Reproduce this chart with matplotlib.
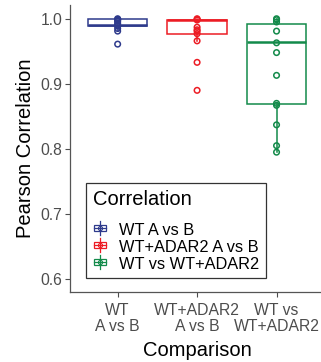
import numpy as np
import matplotlib
matplotlib.use('Agg')
import matplotlib.pyplot as plt
from matplotlib.legend_handler import HandlerBase
from matplotlib.patches import Rectangle
from matplotlib.lines import Line2D

plt.rcParams['font.family'] = ['Liberation Sans', 'DejaVu Sans']

groups = ['WT A vs B', 'WT+ADAR2 A vs B', 'WT vs WT+ADAR2']
tick_labels = ['WT\nA vs B', 'WT+ADAR2\nA vs B', 'WT vs\nWT+ADAR2']
colors = ['#2E3A8C', '#EC1C24', '#138A4A']

# box statistics
q1 = [0.989, 0.976, 0.869]
med = [0.990, 0.998, 0.964]
q3 = [0.999, 0.9985, 0.992]
whislo = [0.981, 0.966, 0.795]
whishi = [1.000, 1.000, 1.000]

pts_wt = [1.000, 0.999, 0.998, 0.996, 0.993, 0.990, 0.989, 0.985, 0.981, 0.961]
pts_adar = [1.000, 0.999, 0.998, 0.987, 0.983, 0.981, 0.977, 0.966, 0.933, 0.890]
pts_cross = [1.000, 0.9985, 0.995, 0.981, 0.963, 0.948, 0.913, 0.870, 0.867,
             0.837, 0.805, 0.795]
points = [pts_wt, pts_adar, pts_cross]

fig = plt.figure(figsize=(3.21, 3.62), dpi=100)
ax = fig.add_axes([0.218, 0.193, 0.792, 0.793])

for i in range(3):
    st = [dict(med=med[i], q1=q1[i], q3=q3[i], whislo=whislo[i], whishi=whishi[i], fliers=[])]
    c = colors[i]
    ax.bxp(st, positions=[i + 1], widths=0.75, showfliers=False, showcaps=False,
           patch_artist=True,
           boxprops=dict(facecolor='none', edgecolor=c, linewidth=1.1),
           medianprops=dict(color=c, linewidth=1.8),
           whiskerprops=dict(color=c, linewidth=1.1))
    ax.scatter(np.full(len(points[i]), i + 1), points[i], s=16, facecolors='none',
               edgecolors=c, linewidths=1.1, zorder=3)

ax.set_xlim(0.4, 3.6)
ax.set_ylim(0.58, 1.021)
ax.set_yticks([0.6, 0.7, 0.8, 0.9, 1.0])
ax.set_xticks([1, 2, 3])
ax.set_xticklabels(tick_labels, linespacing=1.15)
ax.tick_params(colors='#4D4D4D', labelsize=11.3, length=3.5, width=0.8)
ax.tick_params(axis='x', pad=4)
ax.tick_params(axis='y', pad=2)
for s in ['top', 'right']:
    ax.spines[s].set_visible(False)
for s in ['left', 'bottom']:
    ax.spines[s].set_color('#555555')
    ax.spines[s].set_linewidth(0.9)
ax.set_ylabel('Pearson Correlation', fontsize=14.5, labelpad=4)
ax.set_xlabel('Comparison', fontsize=14.5, labelpad=5)


class BoxHandler(HandlerBase):
    def create_artists(self, legend, orig, x0, y0, w, h, fontsize, trans):
        c = orig.get_color()
        cx = x0 + w / 2
        cy = y0 + h / 2
        bw = w * 0.8
        bh = h * 0.5
        rect = Rectangle((cx - bw / 2, cy - bh / 2), bw, bh, facecolor='none',
                         edgecolor=c, linewidth=0.9, transform=trans)
        mline = Line2D([cx - bw / 2, cx + bw / 2], [cy, cy], color=c, lw=0.9, transform=trans)
        vline = Line2D([cx, cx], [y0 - h * 0.05, y0 + h * 1.05], color=c, lw=0.9, transform=trans)
        dot = Line2D([cx], [cy], marker='o', markersize=3, markerfacecolor='none',
                     markeredgecolor=c, markeredgewidth=0.8, transform=trans)
        return [rect, vline, mline, dot]


handles = [Line2D([], [], color=c) for c in colors]
leg = ax.legend(handles, groups, title='Correlation', loc='lower left',
                bbox_to_anchor=(0.063, 0.049), fontsize=11.8, title_fontsize=14.5,
                handler_map={Line2D: BoxHandler()}, handlelength=0.9, handleheight=0.8,
                handletextpad=0.7, labelspacing=0.12, borderpad=0.4, borderaxespad=0,
                fancybox=False, frameon=True, alignment='left')
leg._legend_box.sep = 10
leg.get_frame().set_edgecolor('black')
leg.get_frame().set_linewidth(0.9)

fig.savefig('out.png', dpi=100)
